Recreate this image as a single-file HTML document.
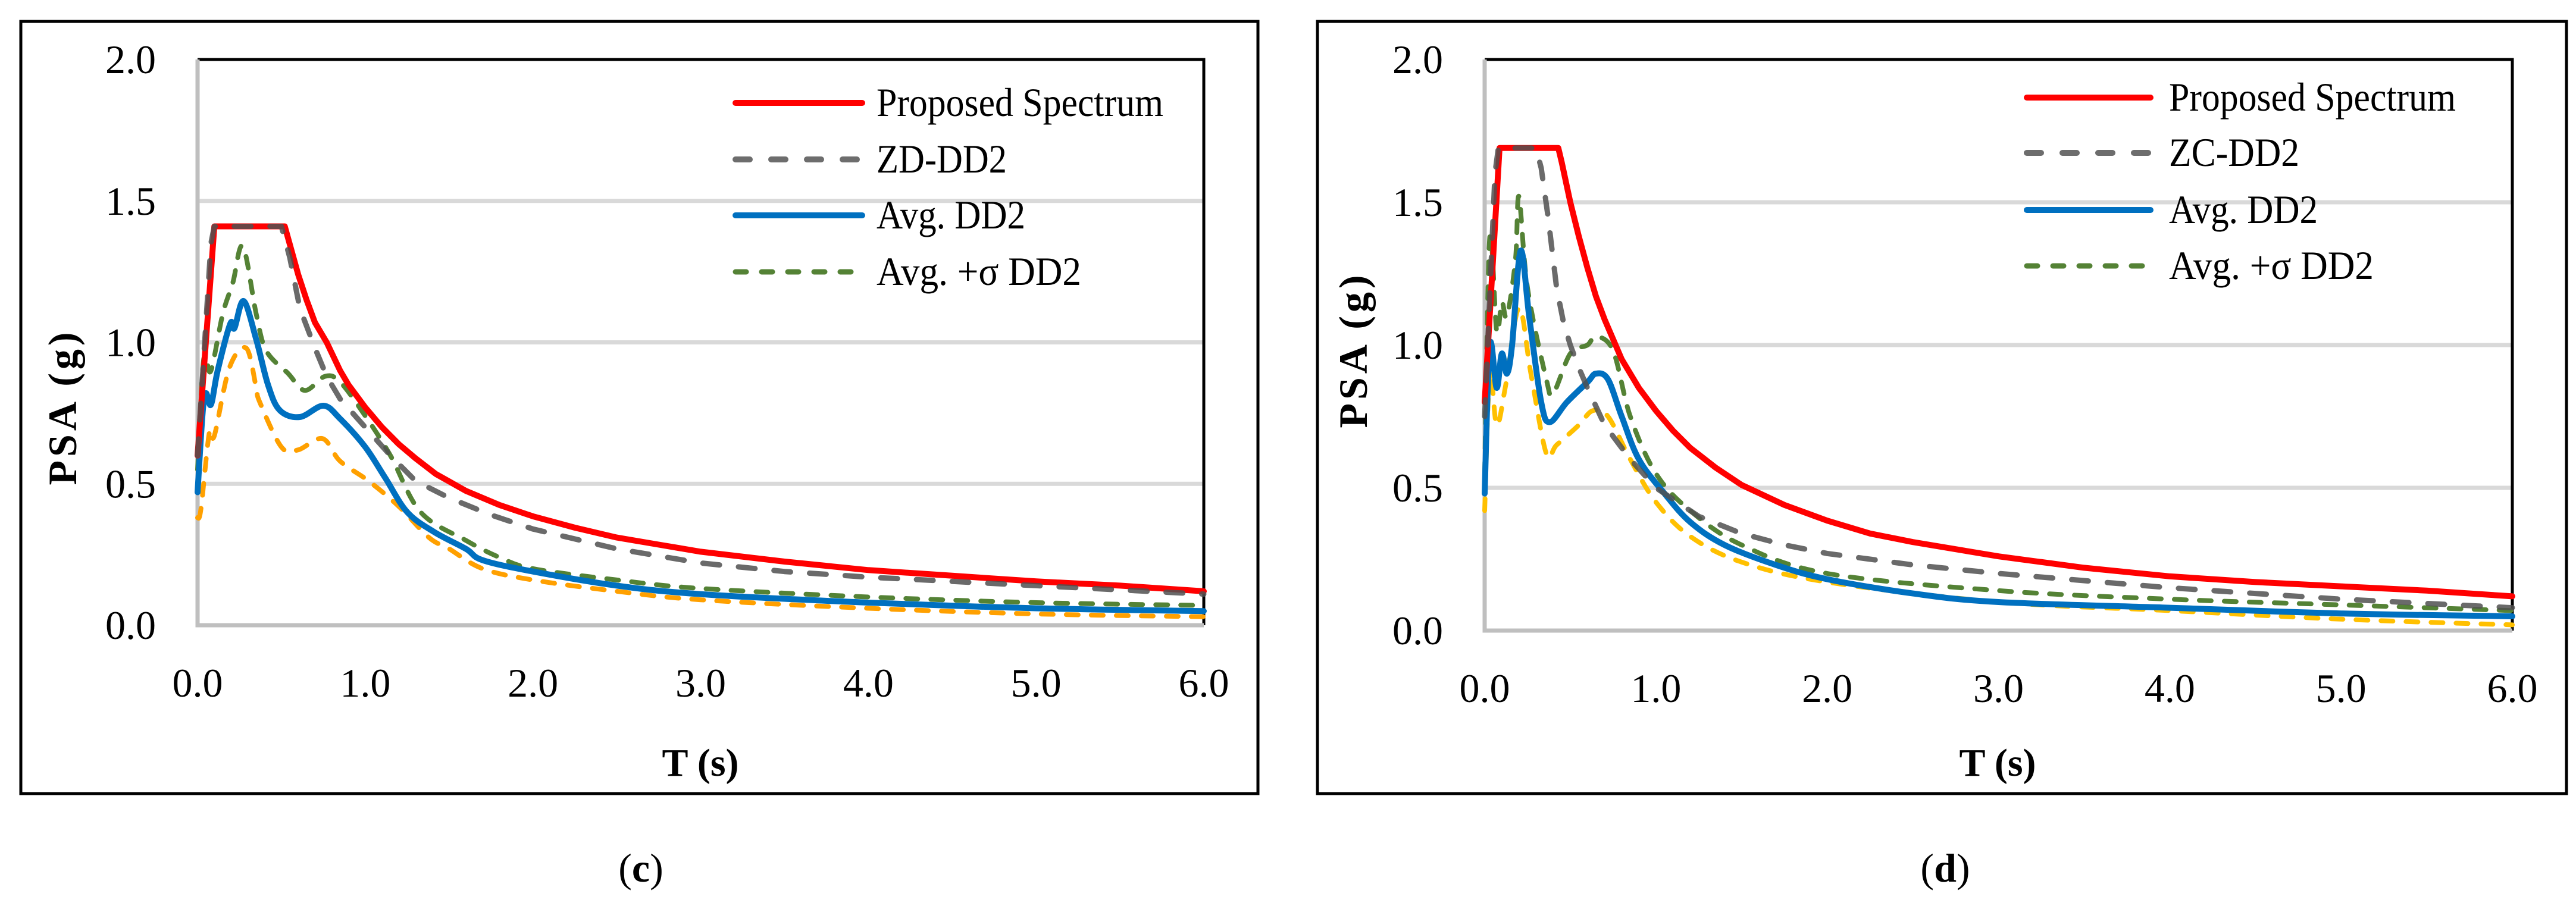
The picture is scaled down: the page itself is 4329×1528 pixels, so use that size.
<!DOCTYPE html>
<html><head><meta charset="utf-8"><style>
html,body{margin:0;padding:0;background:#fff;}
svg{display:block;}
text{font-family:"Liberation Serif",serif;fill:#000;}
</style></head><body>
<svg id="fig" width="4329" height="1528" viewBox="0 0 4329 1528" xmlns="http://www.w3.org/2000/svg"></svg>
<script>
// ---- data: panel (c)
const cT_prop=[0,0.1,0.52,0.6,0.65,0.7,0.77,0.85,0.9,1.0,1.1,1.2,1.3,1.42,1.6,1.8,2.0,2.25,2.5,2.75,3.0,3.5,4.0,4.5,5.0,5.5,6.0];
const cV_prop=[0.6,1.41,1.41,1.24,1.15,1.07,1.0,0.9,0.85,0.77,0.7,0.64,0.59,0.535,0.475,0.425,0.385,0.345,0.31,0.285,0.26,0.225,0.195,0.175,0.155,0.14,0.12];
const cT_zone=[0,0.08,0.1,0.5,0.55,0.61,0.7,0.77,0.85,1.0,1.15,1.3,1.5,1.75,2.0,2.5,3.0,3.5,4.0,5.0,6.0];
const cV_zone=[0.6,1.35,1.41,1.41,1.3,1.12,0.98,0.88,0.8,0.7,0.6,0.51,0.45,0.39,0.34,0.27,0.22,0.19,0.17,0.14,0.11];
const cT_avg=[0,0.03,0.05,0.08,0.12,0.195,0.22,0.275,0.35,0.42,0.49,0.61,0.75,0.85,1.0,1.12,1.25,1.41,1.6,1.7,2.0,2.5,3.0,4.0,5.0,6.0];
const cV_avg=[0.47,0.75,0.82,0.78,0.9,1.066,1.05,1.146,1.01,0.85,0.76,0.736,0.776,0.73,0.63,0.52,0.4,0.33,0.27,0.23,0.19,0.14,0.11,0.08,0.06,0.05];
const cT_sig=[0,0.03,0.05,0.08,0.15,0.21,0.27,0.35,0.41,0.54,0.64,0.76,0.85,1.0,1.15,1.33,1.6,1.8,2.0,2.5,3.0,4.0,5.0,6.0];
const cV_sig=[0.55,0.9,0.95,0.9,1.1,1.21,1.34,1.1,0.97,0.89,0.83,0.88,0.86,0.74,0.6,0.40,0.30,0.24,0.2,0.16,0.13,0.1,0.08,0.07];
const cT_min=[0,0.02,0.07,0.1,0.19,0.29,0.35,0.37,0.5,0.6,0.745,0.85,1.02,1.2,1.38,1.5,1.7,2.0,2.5,3.0,4.0,5.0,6.0];
const cV_min=[0.38,0.41,0.68,0.67,0.91,0.98,0.84,0.79,0.63,0.62,0.66,0.58,0.51,0.42,0.31,0.27,0.2,0.16,0.12,0.09,0.06,0.04,0.03];
// ---- data: panel (d)
const dT_prop=[0,0.087,0.43,0.45,0.5,0.55,0.6,0.65,0.7,0.75,0.8,0.9,1.0,1.1,1.2,1.35,1.5,1.75,2.0,2.25,2.5,3.0,3.5,4.0,4.5,5.0,5.5,6.0];
const dV_prop=[0.8,1.69,1.69,1.64,1.5,1.38,1.27,1.17,1.09,1.02,0.95,0.85,0.77,0.7,0.64,0.57,0.51,0.44,0.385,0.34,0.31,0.26,0.22,0.19,0.17,0.155,0.14,0.12];
const dT_zone=[0,0.06,0.08,0.3,0.33,0.37,0.42,0.46,0.5,0.55,0.6,0.7,0.85,1.0,1.25,1.5,1.75,2.0,2.5,3.0,4.0,5.0,6.0];
const dV_zone=[0.75,1.6,1.69,1.69,1.62,1.45,1.2,1.08,1.0,0.92,0.85,0.72,0.6,0.5,0.4,0.34,0.3,0.27,0.23,0.2,0.15,0.11,0.08];
const dT_avg=[0,0.03,0.07,0.1,0.13,0.16,0.21,0.26,0.33,0.38,0.48,0.6,0.65,0.72,0.8,0.9,1.05,1.2,1.4,1.7,2.0,2.5,3.0,4.0,5.0,6.0];
const dV_avg=[0.48,1.0,0.85,0.97,0.9,1.0,1.33,1.1,0.8,0.73,0.8,0.87,0.9,0.88,0.75,0.6,0.48,0.38,0.3,0.23,0.18,0.13,0.1,0.08,0.06,0.05];
const dT_sig=[0,0.03,0.07,0.1,0.13,0.18,0.2,0.25,0.36,0.4,0.5,0.6,0.65,0.75,0.85,1.0,1.2,1.5,2.0,3.0,4.0,5.0,6.0];
const dV_sig=[0.55,1.38,1.05,1.15,1.1,1.3,1.52,1.2,0.88,0.83,0.97,1.0,1.03,0.98,0.75,0.55,0.42,0.3,0.2,0.14,0.11,0.09,0.07];
const dT_min=[0,0.03,0.07,0.12,0.2,0.27,0.36,0.42,0.55,0.63,0.72,0.85,1.0,1.2,1.5,2.0,3.0,4.0,5.0,6.0];
const dV_min=[0.42,0.9,0.72,0.85,1.13,0.9,0.62,0.65,0.72,0.77,0.75,0.6,0.45,0.33,0.24,0.17,0.1,0.07,0.04,0.02];
const xTicks=["0.0","1.0","2.0","3.0","4.0","5.0","6.0"];
const yTicks=["0.0","0.5","1.0","1.5","2.0"];

const NS="http://www.w3.org/2000/svg";
const svg=document.getElementById('fig');
function mk(tag,attrs,parent){const e=document.createElementNS(NS,tag);for(const k in attrs)e.setAttribute(k,attrs[k]);(parent||svg).appendChild(e);return e;}
function smoothPath(pts){
  let d='M'+pts[0][0].toFixed(1)+' '+pts[0][1].toFixed(1);
  for(let i=0;i<pts.length-1;i++){
    const p0=pts[Math.max(i-1,0)],p1=pts[i],p2=pts[i+1],p3=pts[Math.min(i+2,pts.length-1)];
    const k=1/6;
    const c1=[p1[0]+(p2[0]-p0[0])*k,p1[1]+(p2[1]-p0[1])*k];
    const c2=[p2[0]-(p3[0]-p1[0])*k,p2[1]-(p3[1]-p1[1])*k];
    d+='C'+c1[0].toFixed(1)+' '+c1[1].toFixed(1)+' '+c2[0].toFixed(1)+' '+c2[1].toFixed(1)+' '+p2[0].toFixed(1)+' '+p2[1].toFixed(1);
  }
  return d;
}
function panel(P){
  const g=mk('g',{});
  
  
  const xs=t=>P.x0+(P.x1-P.x0)*t/6;
  const ys=v=>P.y0+(P.y1-P.y0)*v/2;
  const box=mk('rect',{x:P.bx0,y:P.by0,width:P.bx1-P.bx0,height:P.by1-P.by0,fill:'none',stroke:'#000','stroke-width':5},g);
  
  
  yTicks.forEach((lab,i)=>{
    const v=parseFloat(lab);
    if(v>0&&v<2){const l=mk('line',{x1:P.x0,x2:P.x1,y1:ys(v),y2:ys(v),stroke:'#d9d9d9','stroke-width':7},g);
      
      }
    const t=mk('text',{x:P.x0-70,y:ys(v)+23,'text-anchor':'end','font-size':68},g);t.textContent=lab;
    
    
  });
  xTicks.forEach(lab=>{
    const v=parseFloat(lab);
    const t=mk('text',{x:xs(v),y:P.y0+120,'text-anchor':'middle','font-size':68},g);t.textContent=lab;
    
    
  });
  const pb=mk('path',{d:`M${P.x0} ${P.y1}H${P.x1}V${P.y0}`,fill:'none',stroke:'#000','stroke-width':5},g);
  
  
  const ax=mk('path',{d:`M${P.x0} ${P.y1}V${P.y0}H${P.x1}`,fill:'none',stroke:'#bfbfbf','stroke-width':7},g);
  
  
  P.series.forEach(s=>{
    const pts=s.T.map((t,i)=>[xs(t),ys(s.V[i])]);
    let d;
    if(s.smooth){d=smoothPath(pts);}else{d='';pts.forEach((p,i)=>{d+=(i?'L':'M')+p[0].toFixed(1)+' '+p[1].toFixed(1);});}
    const p=mk('path',{d:d,fill:'none',stroke:s.c,'stroke-width':s.w,'stroke-linejoin':'round','stroke-linecap':'round'},g);
    if(s.dash)p.setAttribute('stroke-dasharray',s.dash);
    
    
  });
  P.legend.forEach((L,i)=>{
    const y=P.ly[i];
    const ln=mk('line',{x1:P.lx0,x2:P.lx1,y1:y,y2:y,stroke:L.c,'stroke-width':L.w,'stroke-linecap':'round'},g);
    if(L.dash)ln.setAttribute('stroke-dasharray',L.dash);
    
    
    const t=mk('text',{x:P.tx,y:y+22,'font-size':68,textLength:L.len,lengthAdjust:'spacingAndGlyphs'},g);t.textContent=L.t;
    
    
  });
  const yt=mk('text',{x:0,y:0,'font-size':68,'font-weight':'bold','text-anchor':'middle','letter-spacing':6,transform:`translate(${P.ytx},${P.yty}) rotate(-90)`},g);
  yt.textContent='PSA (g)';
  
  
  const xt=mk('text',{x:P.xtx,y:1304,'font-size':66,'font-weight':'bold','text-anchor':'middle',textLength:129,lengthAdjust:'spacingAndGlyphs'},g);
  xt.textContent='T (s)';
  
  
  const cap=mk('text',{x:P.capx,y:1482,'font-size':68,'text-anchor':'middle'},g);
  cap.innerHTML='(<tspan font-weight="bold">'+P.cap+'</tspan>)';
  
  
}
const lens=[482,219,250,344];
function leg(zone){return [
  {t:'Proposed Spectrum',c:'#ff0000',w:10,len:lens[0]},
  {t:zone,c:'#6d6d6d',w:10,dash:'24 36',len:lens[1]},
  {t:'Avg. DD2',c:'#0070c0',w:10,len:lens[2]},
  {t:'Avg. +\u03c3 DD2',c:'#548235',w:9,dash:'18 26',len:lens[3]}];}
panel({name:'chart-c',x0:332,x1:2023,y0:1051,y1:100,bx0:35,bx1:2114,by0:36,by1:1334,
  lx0:1236,lx1:1449,tx:1473,ly:[173,268,362,457],ytx:128,yty:684,xtx:1177,capx:1077,cap:'c',
  legend:leg('ZD-DD2'),
  series:[
   {id:'min-dd2-line',T:cT_min,V:cV_min,c:'#ffa000',w:8,dash:'20 22',smooth:true},
   {id:'sigma-dd2-line',T:cT_sig,V:cV_sig,c:'#548235',w:8,dash:'20 22',smooth:true},
   {id:'avg-dd2-line',T:cT_avg,V:cV_avg,c:'#0070c0',w:10,smooth:true},
   {id:'proposed-spectrum-line',T:cT_prop,V:cV_prop,c:'#ff0000',w:10},
   {id:'zone-dd2-line',T:cT_zone,V:cV_zone,c:'rgba(80,80,80,0.85)',w:9,dash:'28 32'}]});
panel({name:'chart-d',x0:2495,x1:4222,y0:1060,y1:100,bx0:2214,bx1:4313,by0:36,by1:1334,
  lx0:3406,lx1:3614,tx:3645,ly:[164,257,353,447],ytx:2297,yty:588,xtx:3357,capx:3269,cap:'d',
  legend:leg('ZC-DD2'),
  series:[
   {id:'min-dd2-line',T:dT_min,V:dV_min,c:'#ffc000',w:8,dash:'20 22',smooth:true},
   {id:'sigma-dd2-line',T:dT_sig,V:dV_sig,c:'#548235',w:8,dash:'20 22',smooth:true},
   {id:'avg-dd2-line',T:dT_avg,V:dV_avg,c:'#0070c0',w:10,smooth:true},
   {id:'proposed-spectrum-line',T:dT_prop,V:dV_prop,c:'#ff0000',w:10},
   {id:'zone-dd2-line',T:dT_zone,V:dV_zone,c:'rgba(80,80,80,0.85)',w:9,dash:'28 32'}]});
</script>
</body></html>
